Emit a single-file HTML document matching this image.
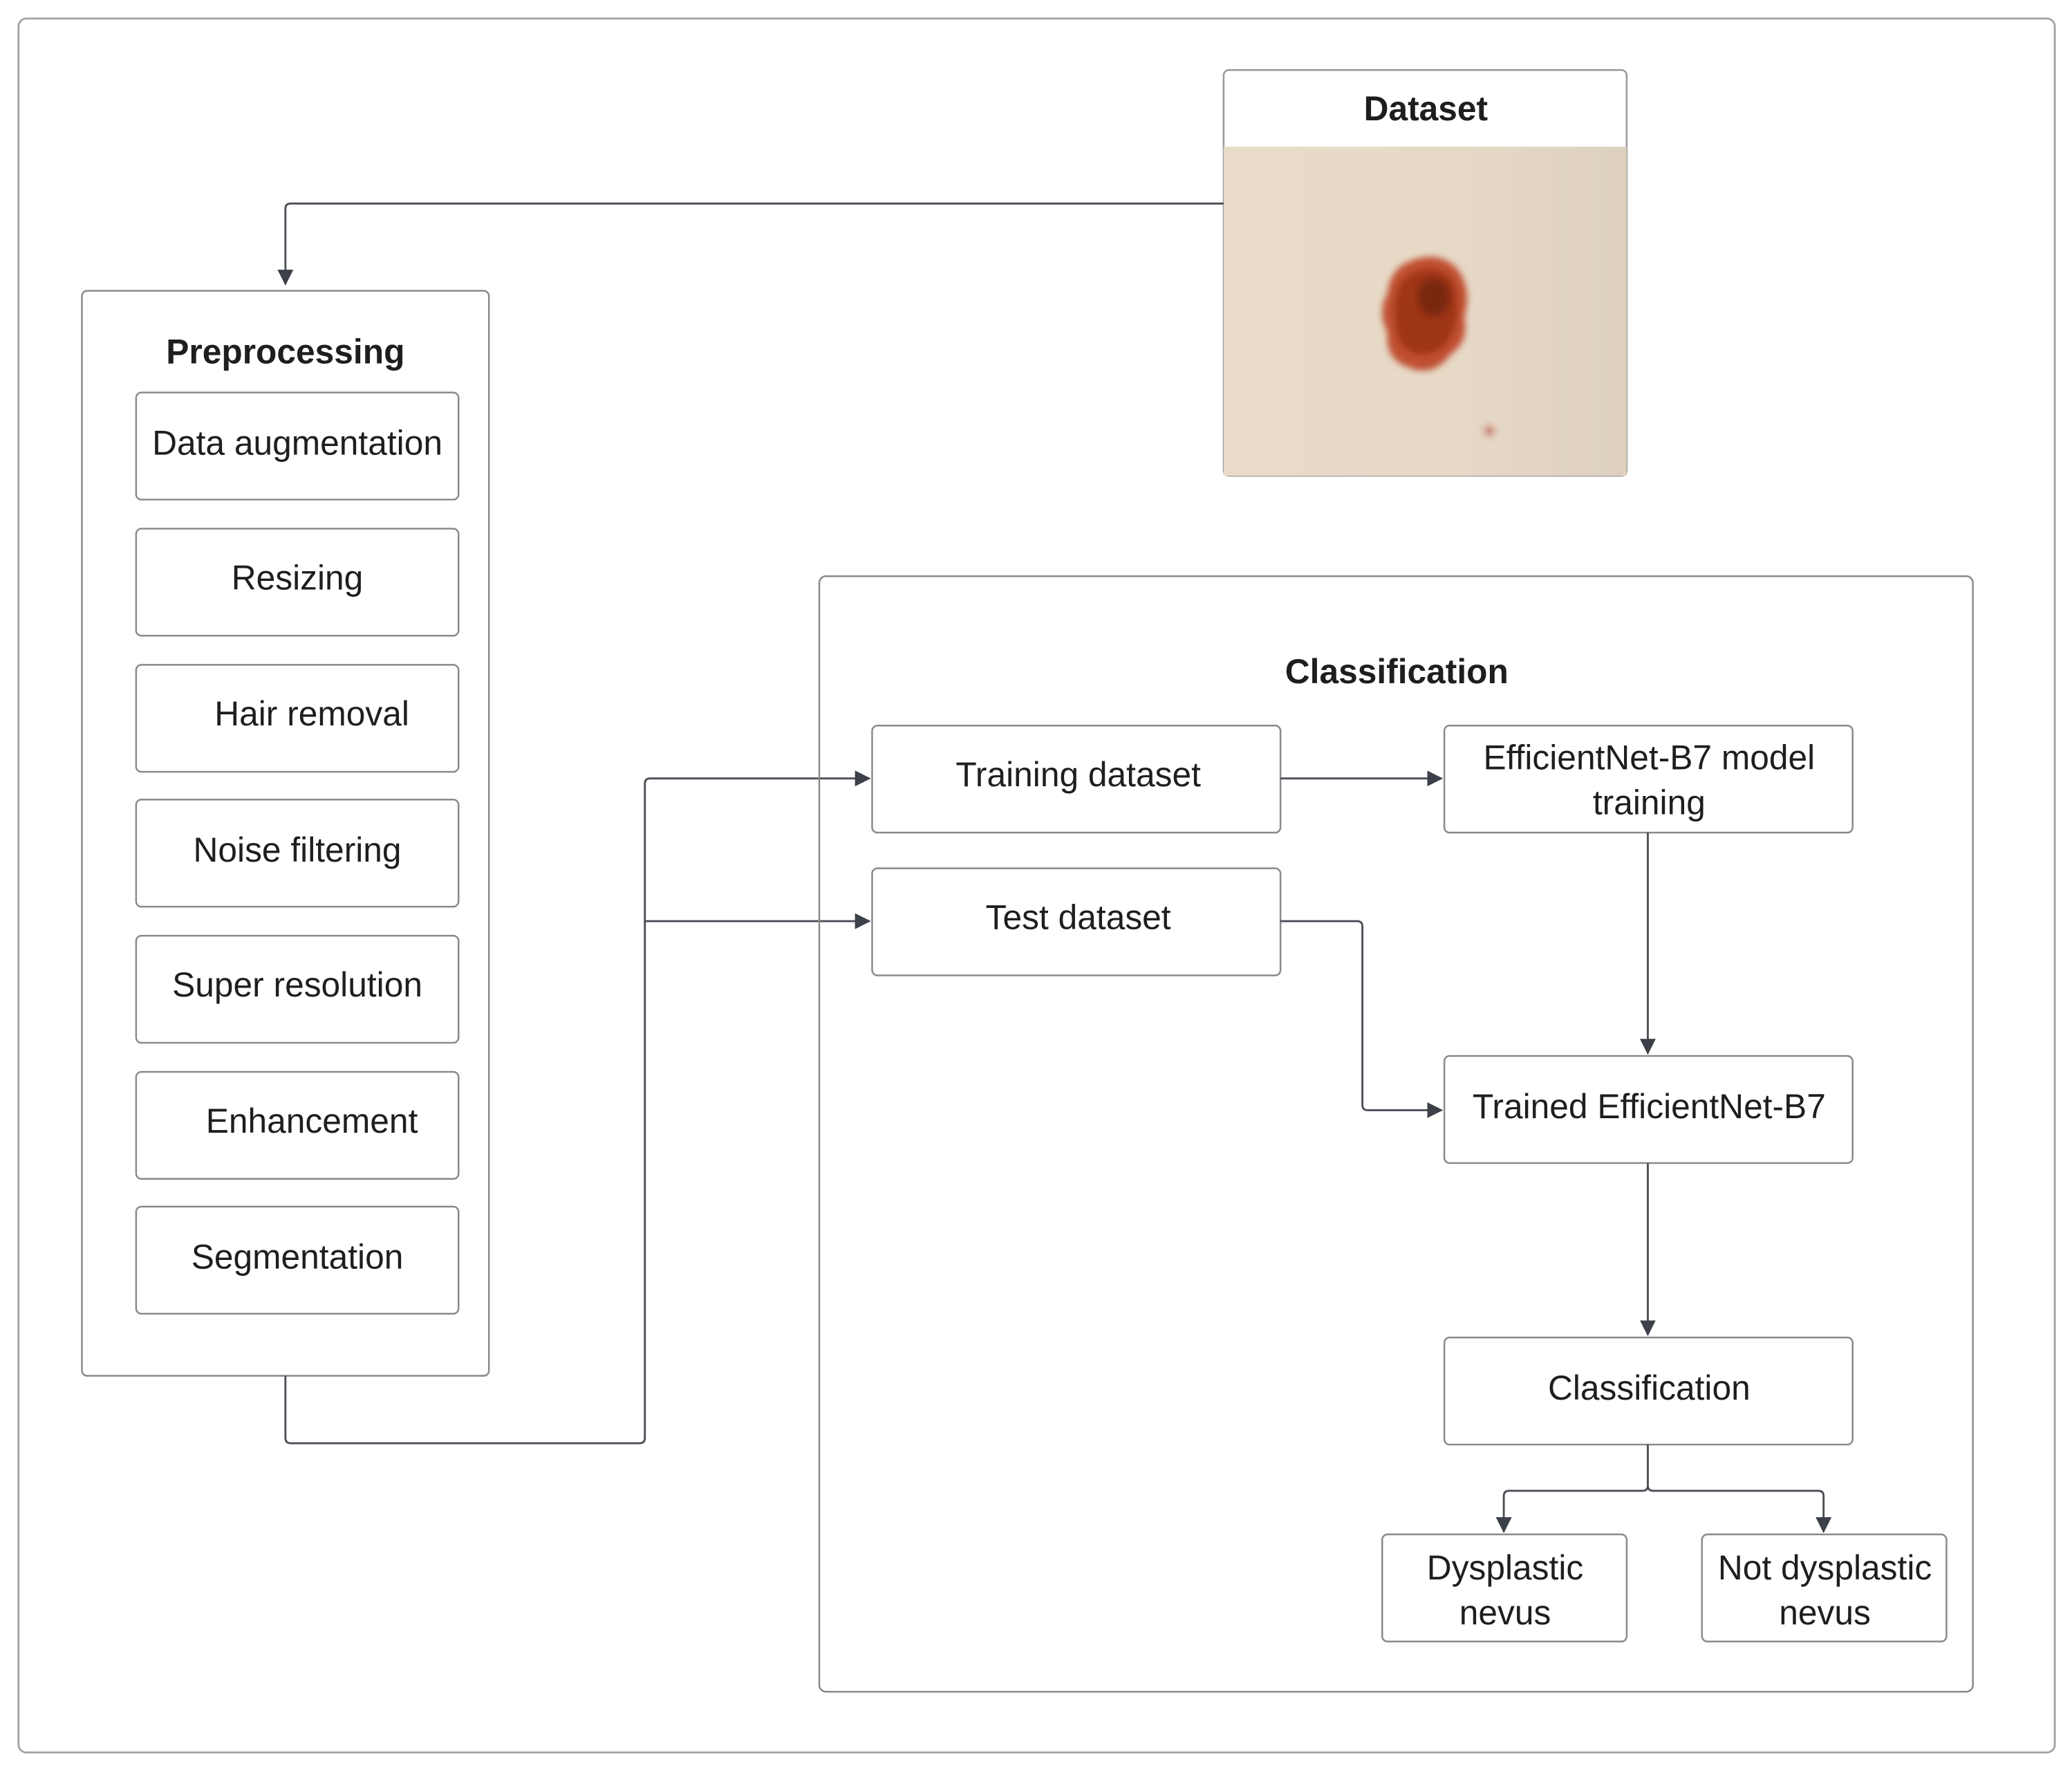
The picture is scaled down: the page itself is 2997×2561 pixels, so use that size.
<!DOCTYPE html>
<html><head><meta charset="utf-8"><style>
html,body{margin:0;padding:0;background:#fff;}
svg{display:block;}
text{font-family:"Liberation Sans",Arial,sans-serif;fill:#1e1e1e;}
</style></head><body>
<svg width="2997" height="2561" viewBox="0 0 1568 1340" preserveAspectRatio="none" xmlns="http://www.w3.org/2000/svg">
<defs>
<marker id="a" markerWidth="12" markerHeight="12" refX="11" refY="6" orient="auto" markerUnits="userSpaceOnUse">
<path d="M0,0 L12,6 L0,12 z" fill="#3c4048"/></marker>
<radialGradient id="sp" cx="0.5" cy="0.5" r="0.5"><stop offset="0" stop-color="#c88a78"/><stop offset="1" stop-color="#e6d6c0" stop-opacity="0"/></radialGradient>
<linearGradient id="bg" x1="0" y1="0" x2="1" y2="0"><stop offset="0" stop-color="#e8dcc9"/><stop offset="0.6" stop-color="#e6d9c6"/><stop offset="1" stop-color="#ddd0bf"/></linearGradient>
<filter id="bl"><feGaussianBlur stdDeviation="2.5"/></filter>
</defs>
<rect x="0" y="0" width="1568" height="1340" fill="#fff"/>
<rect x="14" y="14" width="1541" height="1312" rx="6" fill="none" stroke="#a4a4a4" stroke-width="1.5"/>

<rect x="926" y="53" width="305" height="307" rx="4" fill="#fff" stroke="#999" stroke-width="1.3"/>
<rect x="926" y="111" width="305" height="249" fill="url(#bg)"/>
<path d="M1066,198 Q1090,188 1104,205 Q1114,220 1108,240 Q1112,258 1098,268 Q1084,286 1066,278 Q1048,272 1050,252 Q1042,236 1050,222 Q1052,204 1066,198 Z" fill="#c05030" filter="url(#bl)"/>
<path d="M1070,206 Q1090,198 1100,214 Q1106,232 1100,250 Q1092,270 1072,268 Q1056,262 1056,244 Q1054,226 1060,214 Z" fill="#9e3418" filter="url(#bl)"/>
<ellipse cx="1085" cy="225" rx="12" ry="14" fill="#6a200e" opacity="0.7" filter="url(#bl)"/>
<ellipse cx="1127" cy="326" rx="10" ry="10" fill="url(#sp)"/>
<text x="1079" y="91" font-size="26" font-weight="bold" text-anchor="middle">Dataset</text>

<path d="M926,154 H220 Q216,154 216,158 V215" fill="none" stroke="#4a4e56" stroke-width="1.5" marker-end="url(#a)"/>

<rect x="62" y="220" width="308" height="821" rx="4" fill="#fff" stroke="#8a8a8a" stroke-width="1.3"/>
<text x="216" y="275" font-size="26" font-weight="bold" text-anchor="middle">Preprocessing</text>
<g stroke="#8a8a8a" stroke-width="1.3" fill="#fff">
<rect x="103" y="297" width="244" height="81" rx="4"/>
<rect x="103" y="400" width="244" height="81" rx="4"/>
<rect x="103" y="503" width="244" height="81" rx="4"/>
<rect x="103" y="605" width="244" height="81" rx="4"/>
<rect x="103" y="708" width="244" height="81" rx="4"/>
<rect x="103" y="811" width="244" height="81" rx="4"/>
<rect x="103" y="913" width="244" height="81" rx="4"/>
</g>
<g font-size="26" text-anchor="middle">
<text x="225" y="344">Data augmentation</text>
<text x="225" y="446">Resizing</text>
<text x="236" y="549">Hair removal</text>
<text x="225" y="652">Noise filtering</text>
<text x="225" y="754">Super resolution</text>
<text x="236" y="857">Enhancement</text>
<text x="225" y="960">Segmentation</text>
</g>

<g fill="none" stroke="#4a4e56" stroke-width="1.5">
<path d="M216,1041 V1088 Q216,1092 220,1092 H484 Q488,1092 488,1088 V593 Q488,589 492,589 H658" marker-end="url(#a)"/>
<path d="M488,697 H658" marker-end="url(#a)"/>
</g>

<rect x="620" y="436" width="873" height="844" rx="5" fill="none" stroke="#8a8a8a" stroke-width="1.3"/>
<text x="1057" y="517" font-size="26" font-weight="bold" text-anchor="middle">Classification</text>

<g stroke="#8a8a8a" stroke-width="1.3" fill="#fff">
<rect x="660" y="549" width="309" height="81" rx="4"/>
<rect x="660" y="657" width="309" height="81" rx="4"/>
<rect x="1093" y="549" width="309" height="81" rx="4"/>
<rect x="1093" y="799" width="309" height="81" rx="4"/>
<rect x="1093" y="1012" width="309" height="81" rx="4"/>
<rect x="1046" y="1161" width="185" height="81" rx="4"/>
<rect x="1288" y="1161" width="185" height="81" rx="4"/>
</g>
<g font-size="26" text-anchor="middle">
<text x="816" y="595">Training dataset</text>
<text x="816" y="703">Test dataset</text>
<text x="1248" y="582">EfficientNet-B7 model</text>
<text x="1248" y="616">training</text>
<text x="1248" y="846">Trained EfficientNet-B7</text>
<text x="1248" y="1059">Classification</text>
<text x="1139" y="1195">Dysplastic</text>
<text x="1139" y="1229">nevus</text>
<text x="1381" y="1195">Not dysplastic</text>
<text x="1381" y="1229">nevus</text>
</g>

<g fill="none" stroke="#4a4e56" stroke-width="1.5">
<path d="M969,589 H1091" marker-end="url(#a)"/>
<path d="M969,697 H1027 Q1031,697 1031,701 V836 Q1031,840 1035,840 H1091" marker-end="url(#a)"/>
<path d="M1247,630 V797" marker-end="url(#a)"/>
<path d="M1247,880 V1010" marker-end="url(#a)"/>
<path d="M1247,1093 V1124 Q1247,1128 1243,1128 H1142 Q1138,1128 1138,1132 V1159" marker-end="url(#a)"/>
<path d="M1247,1124 Q1247,1128 1251,1128 H1376 Q1380,1128 1380,1132 V1159" marker-end="url(#a)"/>
</g>
</svg>
</body></html>
